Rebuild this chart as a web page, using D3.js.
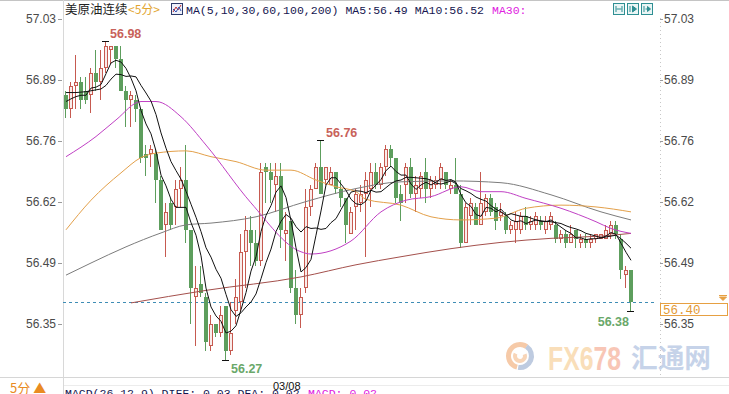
<!DOCTYPE html>
<html>
<head>
<meta charset="utf-8">
<script src="https://cdn.jsdelivr.net/npm/d3@7"></script>
<style>
html, body { margin: 0; padding: 0; background: #fff; }
svg { display: block; }
</style>
</head>
<body>
<svg id="chart" width="729" height="394"></svg>
<script>
// 5-minute bars (index 0 = first bar on the left)
var opens = [56.86,56.83,56.88,56.89,56.87,56.86,56.91,56.89,56.92,56.96,
  56.97,56.94,56.87,56.85,56.85,56.83,56.73,56.73,56.73,56.67,
  56.57,56.62,56.61,56.65,56.67,56.56,56.41,56.44,56.41,56.30,
  56.35,56.33,56.39,56.29,56.38,56.40,56.51,56.56,56.53,56.49,
  56.70,56.69,56.66,56.68,56.55,56.58,56.43,56.37,56.43,56.61,
  56.65,56.70,56.67,56.66,56.69,56.65,56.63,56.55,56.61,56.62,
  56.64,56.65,56.69,56.66,56.70,56.74,56.72,56.64,56.66,56.70,
  56.64,56.65,56.69,56.65,56.66,56.67,56.69,56.65,56.66,56.64,
  56.53,56.59,56.61,56.57,56.60,56.63,56.61,56.59,56.59,56.56,
  56.56,56.56,56.59,56.57,56.57,56.58,56.56,56.57,56.57,56.54,
  56.55,56.53,56.56,56.53,56.54,56.53,56.54,56.54,56.54,56.55,
  56.57,56.54,56.46,56.47];
var highs = [56.87,56.89,56.95,56.90,56.90,56.92,56.96,56.96,56.98,56.97,
  56.97,56.97,56.88,56.87,56.86,56.83,56.75,56.75,56.74,56.68,
  56.62,56.63,56.67,56.70,56.75,56.56,56.48,56.48,56.42,56.37,
  56.35,56.39,56.39,56.40,56.45,56.55,56.59,56.59,56.56,56.71,
  56.71,56.71,56.71,56.71,56.60,56.58,56.47,56.43,56.65,56.66,
  56.71,56.76,56.70,56.70,56.69,56.67,56.63,56.61,56.65,56.66,
  56.69,56.71,56.71,56.71,56.75,56.75,56.72,56.66,56.71,56.72,
  56.68,56.69,56.72,56.68,56.68,56.71,56.69,56.67,56.72,56.66,
  56.62,56.63,56.62,56.69,56.64,56.64,56.62,56.62,56.60,56.58,
  56.60,56.60,56.61,56.59,56.60,56.59,56.59,56.60,56.58,56.56,
  56.56,56.57,56.56,56.55,56.55,56.55,56.55,56.55,56.57,56.58,
  56.58,56.55,56.48,56.47];
var lows = [56.81,56.81,56.83,56.83,56.84,56.82,56.87,56.85,56.91,56.93,
  56.92,56.87,56.79,56.79,56.80,56.71,56.68,56.70,56.62,56.56,
  56.50,56.56,56.57,56.61,56.53,56.35,56.30,56.41,56.29,56.29,
  56.32,56.32,56.27,56.28,56.35,56.38,56.43,56.48,56.48,56.48,
  56.62,56.62,56.60,56.52,56.49,56.42,56.35,56.34,56.42,56.59,
  56.65,56.64,56.66,56.66,56.64,56.61,56.53,56.55,56.56,56.60,
  56.50,56.61,56.65,56.65,56.68,56.70,56.62,56.58,56.62,56.63,
  56.60,56.63,56.62,56.63,56.65,56.65,56.65,56.64,56.64,56.52,
  56.53,56.57,56.57,56.57,56.59,56.59,56.56,56.58,56.55,56.55,
  56.53,56.55,56.56,56.56,56.56,56.56,56.55,56.56,56.53,56.53,
  56.52,56.53,56.52,56.52,56.52,56.52,56.53,56.54,56.54,56.54,
  56.54,56.45,56.43,56.38];
var closes = [56.83,56.88,56.89,56.85,56.85,56.91,56.89,56.92,56.97,56.97,
  56.94,56.87,56.85,56.86,56.83,56.72,56.72,56.74,56.67,56.56,
  56.60,56.57,56.65,56.67,56.56,56.43,56.43,56.42,56.31,56.35,
  56.33,56.37,56.29,56.33,56.41,56.51,56.56,56.53,56.49,56.69,
  56.69,56.67,56.68,56.56,56.56,56.43,56.37,56.41,56.61,56.65,
  56.70,56.64,56.70,56.69,56.65,56.63,56.57,56.60,56.64,56.64,
  56.67,56.69,56.66,56.70,56.74,56.72,56.63,56.62,56.70,56.64,
  56.66,56.68,56.65,56.67,56.67,56.70,56.66,56.66,56.64,56.53,
  56.61,56.62,56.57,56.62,56.63,56.60,56.58,56.60,56.56,56.57,
  56.58,56.59,56.57,56.58,56.59,56.57,56.58,56.59,56.54,56.55,
  56.53,56.55,56.54,56.54,56.53,56.54,56.55,56.55,56.56,56.57,
  56.55,56.47,56.47,56.40];

// moving average lines, one value per bar
var ma5 = [56.846,56.852,56.857,56.860,56.860,56.876,56.878,56.884,56.908,56.932,
  56.938,56.934,56.920,56.898,56.870,56.826,56.796,56.774,56.736,56.682,
  56.658,56.628,56.610,56.610,56.610,56.576,56.548,56.502,56.430,56.388,
  56.368,56.356,56.330,56.334,56.346,56.382,56.420,56.468,56.500,56.556,
  56.592,56.614,56.644,56.658,56.632,56.580,56.520,56.466,56.476,56.494,
  56.548,56.602,56.660,56.676,56.676,56.662,56.648,56.628,56.618,56.616,
  56.624,56.648,56.660,56.672,56.692,56.702,56.690,56.682,56.682,56.662,
  56.650,56.660,56.666,56.660,56.666,56.674,56.670,56.672,56.666,56.638,
  56.620,56.612,56.594,56.590,56.610,56.608,56.600,56.606,56.594,56.582,
  56.578,56.580,56.574,56.578,56.582,56.580,56.578,56.582,56.574,56.566,
  56.558,56.552,56.542,56.542,56.538,56.540,56.540,56.542,56.546,56.554,
  56.550,56.530,56.510,56.492];
var ma10 = [56.866,56.866,56.866,56.867,56.868,56.870,56.872,56.874,56.882,56.896,
  56.907,56.906,56.902,56.903,56.901,56.882,56.865,56.847,56.817,56.776,
  56.742,56.712,56.692,56.673,56.646,56.617,56.588,56.556,56.520,56.499,
  56.472,56.452,56.416,56.382,56.367,56.375,56.388,56.399,56.417,56.451,
  56.487,56.517,56.556,56.579,56.594,56.586,56.567,56.555,56.567,56.563,
  56.564,56.561,56.563,56.576,56.585,56.605,56.625,56.644,56.647,56.646,
  56.643,56.648,56.644,56.645,56.654,56.663,56.669,56.671,56.677,56.677,
  56.676,56.675,56.674,56.671,56.664,56.662,56.665,56.669,56.663,56.652,
  56.647,56.641,56.633,56.628,56.624,56.614,56.606,56.600,56.592,56.596,
  56.593,56.590,56.590,56.586,56.582,56.579,56.579,56.578,56.576,56.574,
  56.569,56.565,56.562,56.558,56.552,56.549,56.546,56.542,56.544,56.546,
  56.548,56.540,56.530,56.519];

// slower averages, read at [bar index, value]
var ma30 = [[0,56.723],[6,56.768],[10,56.805],[15,56.846],[18,56.846],[23,56.812],[28,56.749],
  [37,56.620],[47,56.511],[49,56.506],[57,56.535],[63,56.600],[68,56.626],[73,56.634],
  [79,56.656],[83,56.645],[87,56.645],[92,56.630],[99,56.608],[106,56.578],[109,56.563],[113,56.552]];
var ma60 = [[0,56.560],[5,56.626],[11,56.687],[15,56.721],[18,56.731],[24,56.736],[29,56.723],
  [34,56.712],[40,56.693],[45,56.693],[50,56.671],[54,56.656],[58,56.645],[60,56.628],
  [67,56.615],[73,56.589],[79,56.582],[86,56.586],[92,56.608],[99,56.615],[106,56.611],[113,56.600]];
var ma100 = [[0,56.459],[5,56.486],[12,56.522],[19,56.553],[24,56.571],[29,56.575],[38,56.589],
  [48,56.623],[58,56.652],[67,56.667],[77,56.669],[87,56.665],[97,56.638],[107,56.600],[113,56.582]];
var ma200 = [[13,56.397],[28,56.425],[47,56.455],[58,56.482],[67,56.500],[77,56.518],
  [87,56.532],[97,56.541],[107,56.546],[113,56.552]];

var yTicks = [57.03, 56.894, 56.758, 56.622, 56.486, 56.35];
var yTickLabels = ['57.03', '56.89', '56.76', '56.62', '56.49', '56.35'];

var UP = '#c65a50', UP_FILL = '#f9ecea', DOWN = '#5d9e5d';
var MONO = '"Liberation Mono", "DejaVu Sans Mono", monospace';
var SANS = '"Liberation Sans", Arial, sans-serif';
var CJK = '"Noto Sans CJK SC", sans-serif';

var svg = d3.select('#chart');
var x = d3.scaleLinear().domain([0, closes.length - 1]).range([66, 631]);
var y = d3.scaleLinear().domain([56.35, 57.03]).range([324, 19]);

// frame
function hline(y0, x0, x1, col) {
  svg.append('line').attr('x1', x0).attr('x2', x1).attr('y1', y0).attr('y2', y0)
    .attr('stroke', col).attr('shape-rendering', 'crispEdges');
}
hline(0.5, 0, 729, '#c4c4c4');
hline(377.5, 0, 729, '#d6d6d6');
hline(385.5, 63, 729, '#ececec');
svg.append('line').attr('x1', 63.5).attr('x2', 63.5).attr('y1', 0).attr('y2', 394)
  .attr('stroke', '#d8d8d8').attr('shape-rendering', 'crispEdges');
svg.append('line').attr('x1', 660.5).attr('x2', 660.5).attr('y1', 18).attr('y2', 377)
  .attr('stroke', '#c8c8c8').attr('stroke-dasharray', '1,3').attr('shape-rendering', 'crispEdges');

// axes
var axL = svg.append('g').attr('transform', 'translate(62,0)')
  .call(d3.axisLeft(y).tickValues(yTicks).tickSize(4).tickPadding(2)
    .tickFormat(function(d, i) { return yTickLabels[i]; }));
var axR = svg.append('g').attr('transform', 'translate(660,0)')
  .call(d3.axisRight(y).tickValues(yTicks).tickSize(3).tickPadding(1)
    .tickFormat(function(d, i) { return yTickLabels[i]; }));
[axL, axR].forEach(function(ax) {
  ax.select('.domain').remove();
  ax.selectAll('.tick line').attr('stroke', '#9a9a9a');
  ax.selectAll('.tick text').attr('fill', '#4a4a4a').style('font-family', SANS).style('font-size', '12px');
});

// watermark
var wm = svg.append('g').attr('opacity', 0.75);
var arc = d3.arc();
wm.append('path').attr('transform', 'translate(520,356)')
  .attr('d', arc({innerRadius: 9, outerRadius: 14, startAngle: 3.4, endAngle: 6.9}))
  .attr('fill', '#f3b98c');
wm.append('path').attr('transform', 'translate(520,356)')
  .attr('d', arc({innerRadius: 9, outerRadius: 14, startAngle: 0.6, endAngle: 3.3}))
  .attr('fill', '#a9bad6');
wm.append('path').attr('transform', 'translate(520,356)')
  .attr('d', arc({innerRadius: 3, outerRadius: 7, startAngle: 1.2, endAngle: 5.2}))
  .attr('fill', '#f6c7a0');
var fx = wm.append('text').attr('x', 548).attr('y', 370).attr('textLength', 73)
  .attr('lengthAdjust', 'spacingAndGlyphs')
  .style('font-family', SANS).style('font-weight', 'bold').style('font-size', '34px');
fx.append('tspan').attr('fill', '#f8d3a2').text('FX6');
fx.append('tspan').attr('fill', '#f6b49e').text('78');
wm.append('text').attr('x', 631).attr('y', 368).attr('textLength', 80)
  .attr('lengthAdjust', 'spacingAndGlyphs').attr('fill', '#b4c5e2')
  .style('font-family', CJK).style('font-weight', 'bold').style('font-size', '27px').text('汇通网');

// last price line
var last = closes[closes.length - 1];
svg.append('line').attr('x1', 63).attr('x2', 657)
  .attr('y1', Math.round(y(last)) + 0.5).attr('y2', Math.round(y(last)) + 0.5)
  .attr('stroke', '#3f8db5').attr('stroke-dasharray', '3,3');

// candles
var bars = closes.map(function(c, i) {
  return {i: i, o: opens[i], h: highs[i], l: lows[i], c: c};
});
var cg = svg.append('g').attr('shape-rendering', 'crispEdges');
bars.forEach(function(d) {
  var up = d.c >= d.o;
  var cx = Math.round(x(d.i));
  var top = Math.round(y(Math.max(d.o, d.c)));
  var bot = Math.round(y(Math.min(d.o, d.c)));
  cg.append('rect').attr('x', cx - 1).attr('y', Math.round(y(d.h)))
    .attr('width', 1).attr('height', Math.max(1, Math.round(y(d.l)) - Math.round(y(d.h))))
    .attr('fill', up ? UP : DOWN);
  if (up) {
    cg.append('rect').attr('x', cx - 1.5).attr('y', top + 0.5)
      .attr('width', 3).attr('height', Math.max(0, bot - top - 1))
      .attr('fill', UP_FILL).attr('stroke', UP);
  } else {
    cg.append('rect').attr('x', cx - 2).attr('y', top)
      .attr('width', 4).attr('height', Math.max(1, bot - top))
      .attr('fill', DOWN);
  }
});

// moving averages
var lineIdx = d3.line().x(function(d) { return x(d[0]); }).y(function(d) { return y(d[1]); })
  .curve(d3.curveMonotoneX);
var lineSeq = d3.line().x(function(d, i) { return x(i); }).y(function(d) { return y(d); });
[[ma200, '#a4504c'], [ma100, '#7c7c7c'], [ma60, '#e3a04a'], [ma30, '#c040c4']].forEach(function(s) {
  svg.append('path').attr('d', lineIdx(s[0])).attr('fill', 'none')
    .attr('stroke', s[1]).attr('stroke-width', 1);
});
[ma10, ma5].forEach(function(s) {
  svg.append('path').attr('d', lineSeq(s)).attr('fill', 'none')
    .attr('stroke', '#111').attr('stroke-width', 1);
});

// extreme markers
var iHi = d3.maxIndex(highs), iLo = d3.minIndex(lows);
var iHi2 = 51, iLast = closes.length - 1;
function mark(i, v) {
  svg.append('line').attr('x1', Math.round(x(i)) - 4).attr('x2', Math.round(x(i)) + 3)
    .attr('y1', Math.round(y(v)) + 0.5).attr('y2', Math.round(y(v)) + 0.5)
    .attr('stroke', '#111').attr('shape-rendering', 'crispEdges');
}
mark(iHi, highs[iHi]); mark(iHi2, highs[iHi2]); mark(iLo, lows[iLo]); mark(iLast, lows[iLast]);
function tag(tx, ty, txt, col, anchor) {
  svg.append('text').attr('x', tx).attr('y', ty).attr('fill', col).attr('text-anchor', anchor || 'start')
    .style('font-family', SANS).style('font-size', '12.5px').style('font-weight', 'bold').text(txt);
}
tag(x(iHi) + 4, y(highs[iHi]) - 3, highs[iHi].toFixed(2), '#c8625a');
tag(x(iHi2) + 5, y(highs[iHi2]) - 3, highs[iHi2].toFixed(2), '#c8625a');
tag(x(iLo) + 5, y(lows[iLo]) + 13, lows[iLo].toFixed(2), '#6aa86a');
tag(x(iLast) - 2, y(lows[iLast]) + 15, lows[iLast].toFixed(2), '#6aa86a', 'end');

// last price box
svg.append('rect').attr('x', 660.5).attr('y', 303.5).attr('width', 67).attr('height', 12)
  .attr('fill', '#fff').attr('stroke', '#e6a042');
svg.append('text').attr('x', 663).attr('y', 314).attr('fill', '#e39a36')
  .style('font-family', MONO).style('font-size', '12.5px').text(last.toFixed(2));
svg.append('path').attr('d', 'M719,295.5 h8 M719.5,297 h7 l-3.5,3.5 z').attr('stroke', '#e6a042')
  .attr('fill', '#e6a042');

// header
svg.append('text').attr('x', 65).attr('y', 14).attr('fill', '#222')
  .style('font-family', CJK).style('font-size', '12.5px').text('美原油连续');
svg.append('text').attr('x', 128).attr('y', 14).attr('fill', '#e2a530')
  .style('font-family', CJK).style('font-size', '12px').text('<5分>');
svg.append('rect').attr('x', 171.5).attr('y', 3.5).attr('width', 11).attr('height', 11)
  .attr('fill', '#eef0fa').attr('stroke', '#2c3a6a');
svg.append('path').attr('d', 'M173,12 L176,7 L178,10 L181,5').attr('fill', 'none').attr('stroke', '#c03030');
svg.append('path').attr('d', 'M173,9 L176,12 L179,7 L181,11').attr('fill', 'none').attr('stroke', '#3050b0');
svg.append('text').attr('x', 186).attr('y', 14).attr('fill', '#161650')
  .attr('textLength', 298).attr('lengthAdjust', 'spacing')
  .style('font-family', MONO).style('font-size', '11.5px')
  .text('MA(5,10,30,60,100,200) MA5:56.49 MA10:56.52');
svg.append('text').attr('x', 492).attr('y', 14).attr('fill', '#e020e0')
  .style('font-family', MONO).style('font-size', '11.5px').text('MA30:');
// toolbar buttons
[613.5, 627.5, 641.5].forEach(function(bx, k) {
  svg.append('rect').attr('x', bx).attr('y', 3.5).attr('width', 11).attr('height', 11)
    .attr('fill', '#eaf5f5').attr('stroke', '#2f8f93');
  var g = ['M' + (bx + 2.5) + ',6 v6 M' + (bx + 8.5) + ',6 v6 M' + (bx + 3) + ',9 h5',
           'M' + (bx + 2.5) + ',6 v6 M' + (bx + 5) + ',6 l4,3 l-4,3 z',
           'M' + (bx + 2.5) + ',6 v6 M' + (bx + 4) + ',9 h3 M' + (bx + 6) + ',6.5 l3,2.5 l-3,2.5 z'][k];
  svg.append('path').attr('d', g).attr('fill', '#2f8f93').attr('stroke', '#2f8f93');
});

// bottom strip
svg.append('text').attr('x', 10).attr('y', 393).attr('fill', '#e98b22')
  .style('font-family', CJK).style('font-size', '13px').text('5分 ▲');
svg.append('text').attr('x', 65).attr('y', 397).attr('fill', '#161650')
  .style('font-family', MONO).style('font-size', '11.5px').text('MACD(26,12,9) DIFF:-0.03 DEA:-0.02');
svg.append('text').attr('x', 308).attr('y', 397).attr('fill', '#e020e0')
  .style('font-family', MONO).style('font-size', '11.5px').text('MACD:-0.02');
svg.append('text').attr('x', 273).attr('y', 390).attr('fill', '#111')
  .style('font-family', SANS).style('font-size', '11px').text('03/08');
</script>
</body>
</html>
